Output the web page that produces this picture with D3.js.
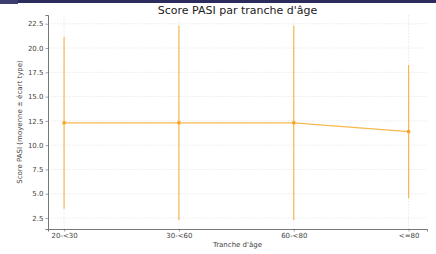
<!DOCTYPE html>
<html>
<head>
<meta charset="utf-8">
<script src="https://cdn.jsdelivr.net/npm/d3@7"></script>
<style>
  body { margin: 0; background: #fff; }
  svg text { font-family: "DejaVu Sans", sans-serif; }
</style>
</head>
<body>
<div id="chart"></div>
<script>
// values
var ageGroups = ["20-<30", "30-<60", "60-<80", "<=80"],
    meanScore = [12.3, 12.3, 12.3, 11.4],
    sdScore = [8.85, 10.0, 10.0, 6.85],
    yTicks = [2.5, 5.0, 7.5, 10.0, 12.5, 15.0, 17.5, 20.0, 22.5];

var width = 436,
    height = 254,
    margin = {top: 15, right: 9, bottom: 25, left: 48},
    lineColor = "#f5a623";

var svg = d3.select("#chart")
    .append("svg")
    .attr("width", width)
    .attr("height", height);

// dark strip along the top edge
svg.append("rect").attr("x", 0).attr("y", 0).attr("width", width).attr("height", 3).attr("fill", "#2b2b5e");
svg.append("rect").attr("x", 0).attr("y", 0).attr("width", 18).attr("height", 4).attr("fill", "#3d3d72");

// categorical x, like matplotlib (index positions with a bit of padding)
var x = d3.scaleLinear()
    .domain([-0.14, 3.16])
    .range([margin.left, width - margin.right]);

var y = d3.scaleLinear()
    .domain([1.37, 23.4])
    .range([height - margin.bottom, margin.top]);

var g = svg.append("g");

// grid
g.selectAll(".hgrid")
    .data(yTicks)
    .enter().append("line")
    .attr("class", "hgrid")
    .attr("x1", margin.left).attr("x2", width - margin.right)
    .attr("y1", function(d) { return y(d); })
    .attr("y2", function(d) { return y(d); })
    .attr("stroke", "#dcdcdc")
    .attr("stroke-width", 0.6)
    .attr("stroke-dasharray", "1.5,1.5");

g.selectAll(".vgrid")
    .data(ageGroups)
    .enter().append("line")
    .attr("class", "vgrid")
    .attr("x1", function(d, i) { return x(i); })
    .attr("x2", function(d, i) { return x(i); })
    .attr("y1", margin.top).attr("y2", height - margin.bottom)
    .attr("stroke", "#dcdcdc")
    .attr("stroke-width", 0.6)
    .attr("stroke-dasharray", "1.5,1.5");

// axes
var yAxis = d3.axisLeft(y).tickValues(yTicks).tickFormat(d3.format(".1f")).tickSize(2.5).tickPadding(2);
var xAxis = d3.axisBottom(x).tickValues(d3.range(ageGroups.length))
    .tickFormat(function(i) { return ageGroups[i]; }).tickSize(2.5).tickPadding(2);

var yG = svg.append("g")
    .attr("transform", "translate(" + margin.left + ",0)")
    .call(yAxis);
var xG = svg.append("g")
    .attr("transform", "translate(0," + (height - margin.bottom) + ")")
    .call(xAxis);

[yG, xG].forEach(function(a) {
    a.select(".domain").attr("stroke", "#666").attr("stroke-width", 0.9);
    a.selectAll(".tick line").attr("stroke", "#666").attr("stroke-width", 0.6);
    a.selectAll(".tick text").attr("fill", "#444").style("font-size", "7px");
});

// error bars
g.selectAll(".err")
    .data(meanScore)
    .enter().append("line")
    .attr("class", "err")
    .attr("x1", function(d, i) { return x(i); })
    .attr("x2", function(d, i) { return x(i); })
    .attr("y1", function(d, i) { return y(d - sdScore[i]); })
    .attr("y2", function(d, i) { return y(d + sdScore[i]); })
    .attr("stroke", lineColor)
    .attr("stroke-opacity", 0.85)
    .attr("stroke-width", 1.1);

// mean line
var line = d3.line()
    .x(function(d, i) { return x(i); })
    .y(function(d) { return y(d); });

g.append("path")
    .datum(meanScore)
    .attr("d", line)
    .attr("fill", "none")
    .attr("stroke", lineColor)
    .attr("stroke-opacity", 0.8)
    .attr("stroke-width", 1.3);

g.selectAll(".pt")
    .data(meanScore)
    .enter().append("rect")
    .attr("class", "pt")
    .attr("x", function(d, i) { return x(i) - 1.6; })
    .attr("y", function(d) { return y(d) - 1.6; })
    .attr("width", 3.2).attr("height", 3.2)
    .attr("fill", lineColor);

// labels
svg.append("text")
    .attr("x", (margin.left + width - margin.right) / 2)
    .attr("y", 13.5)
    .attr("text-anchor", "middle")
    .attr("fill", "#222")
    .style("font-size", "11px")
    .text("Score PASI par tranche d'âge");

svg.append("text")
    .attr("x", (margin.left + width - margin.right) / 2)
    .attr("y", 247)
    .attr("text-anchor", "middle")
    .attr("fill", "#444")
    .style("font-size", "7px")
    .text("Tranche d'âge");

svg.append("text")
    .attr("transform", "translate(22," + ((margin.top + height - margin.bottom) / 2) + ") rotate(-90)")
    .attr("text-anchor", "middle")
    .attr("fill", "#444")
    .style("font-size", "7px")
    .text("Score PASI (moyenne ± écart type)");
</script>
</body>
</html>
